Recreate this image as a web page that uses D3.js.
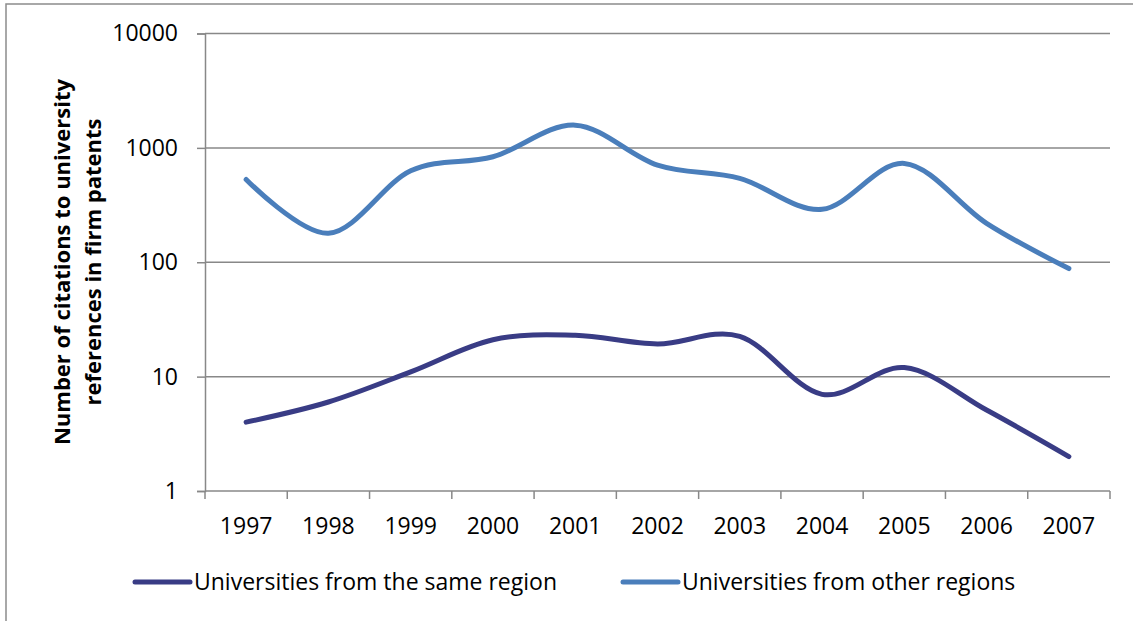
<!DOCTYPE html>
<html>
<head>
<meta charset="utf-8">
<script src="https://cdn.jsdelivr.net/npm/d3@7"></script>
<style>
  html, body { margin: 0; padding: 0; background: #fff; }
  svg { display: block; }
  text { font-variant-ligatures: none; }
</style>
</head>
<body>
<script>
const years = ["1997", "1998", "1999", "2000", "2001", "2002", "2003", "2004", "2005", "2006", "2007"];
const sameRegion = [4, 6, 11, 21, 23, 19.3, 22.5, 7, 12, 5.1, 2];
const otherRegions = [530, 179, 630, 836, 1580, 707, 541, 290, 731, 219, 88];
const yTicks = [1, 10, 100, 1000, 10000];
const seriesNames = ["Universities from the same region", "Universities from other regions"];
const seriesColors = ["#393c85", "#4a7ebb"];

const width = 1133, height = 621;
const font = "'Open Sans', sans-serif";

const svg = d3.select("body").append("svg")
  .attr("width", width)
  .attr("height", height)
  .attr("viewBox", [0, 0, width, height]);

// chart area border (only left/top visible in the crop)
svg.append("rect")
  .attr("x", 6).attr("y", 4)
  .attr("width", width + 20).attr("height", height + 20)
  .attr("fill", "none")
  .attr("stroke", "#8c8c8c")
  .attr("stroke-width", 1.5);

const x = d3.scaleBand().domain(years).range([205, 1110]);
const y = d3.scaleLog().domain([1, 10000]).range([491, 33.5]);

// horizontal grid
svg.append("g")
  .selectAll("line")
  .data(yTicks.slice(1))
  .join("line")
  .attr("x1", 205).attr("x2", 1110)
  .attr("y1", d => y(d)).attr("y2", d => y(d))
  .attr("stroke", "#888")
  .attr("stroke-width", 1.5);

// y axis
svg.append("g")
  .attr("transform", "translate(205,0)")
  .call(d3.axisLeft(y).tickValues(yTicks).tickFormat(d3.format("d")).tickSize(8).tickPadding(19))
  .call(g => g.select(".domain").attr("stroke", "#888").attr("stroke-width", 1.5))
  .call(g => g.selectAll(".tick line").attr("stroke", "#888").attr("stroke-width", 1.5))
  .call(g => g.selectAll(".tick text")
    .attr("font-family", font).attr("font-size", 23).attr("fill", "#000"));

// x axis with tick marks between categories
const xAxis = svg.append("g").attr("transform", "translate(0,491)");
xAxis.append("line")
  .attr("x1", 205).attr("x2", 1110)
  .attr("stroke", "#888").attr("stroke-width", 1.5);
xAxis.selectAll(".tk")
  .data(years.concat(["end"]))
  .join("line")
  .attr("class", "tk")
  .attr("x1", (d, i) => i < years.length ? x(d) : x.range()[1])
  .attr("x2", (d, i) => i < years.length ? x(d) : x.range()[1])
  .attr("y1", 0).attr("y2", 8)
  .attr("stroke", "#888").attr("stroke-width", 1.5);
xAxis.selectAll("text")
  .data(years)
  .join("text")
  .attr("x", d => x(d) + x.bandwidth() / 2)
  .attr("y", 43)
  .attr("text-anchor", "middle")
  .attr("font-family", font).attr("font-size", 23)
  .attr("fill", "#000")
  .text(d => d);

// y title
const title = svg.append("text")
  .attr("transform", "translate(62,262) rotate(-90)")
  .attr("text-anchor", "middle")
  .attr("font-family", font).attr("font-size", 22).attr("font-weight", "bold")
  .attr("fill", "#000");
title.append("tspan").attr("x", 0).attr("dy", "0.35em").text("Number of citations to university");
title.append("tspan").attr("x", 0).attr("dy", "1.4em").text("references in firm patents");

// lines
const line = d3.line()
  .x((d, i) => x(years[i]) + x.bandwidth() / 2)
  .y(d => y(d))
  .curve(d3.curveCardinal.tension(0));

[sameRegion, otherRegions].forEach((vals, i) => {
  svg.append("path")
    .datum(vals)
    .attr("fill", "none")
    .attr("stroke", seriesColors[i])
    .attr("stroke-width", 5)
    .attr("stroke-linecap", "round")
    .attr("stroke-linejoin", "round")
    .attr("d", line);
});

// legend
const legendX = [135, 623];
seriesNames.forEach((name, i) => {
  const g = svg.append("g").attr("transform", `translate(${legendX[i]},582)`);
  g.append("line")
    .attr("x1", 0).attr("x2", 55)
    .attr("stroke", seriesColors[i])
    .attr("stroke-width", 5)
    .attr("stroke-linecap", "round");
  g.append("text")
    .attr("x", 59)
    .attr("dy", "0.35em")
    .attr("font-family", font).attr("font-size", 23)
    .attr("fill", "#000")
    .text(name);
});
</script>
</body>
</html>
